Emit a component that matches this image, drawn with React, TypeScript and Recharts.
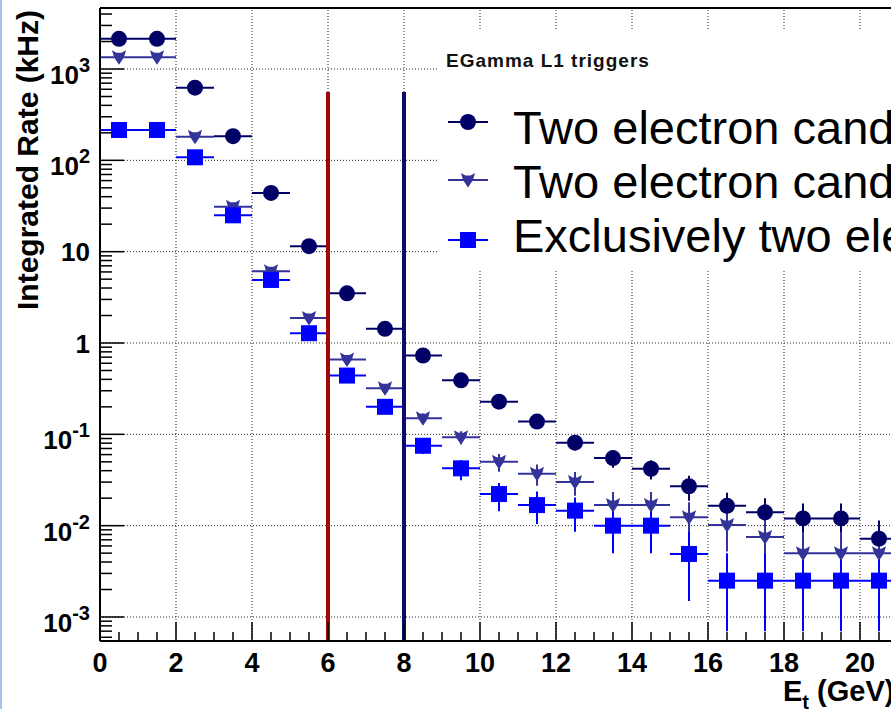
import { ErrorBar, ReferenceLine, Scatter, ScatterChart, XAxis, YAxis } from "recharts";

// bins are 1 GeV wide, points sit at the bin centres
const BIN_CENTERS = [
  0.5, 1.5, 2.5, 3.5, 4.5, 5.5, 6.5, 7.5, 8.5, 9.5, 10.5, 11.5, 12.5, 13.5, 14.5, 15.5, 16.5, 17.5, 18.5,
  19.5, 20.5,
];
const BIN_HALF_WIDTH = 0.5;

// circles
const TWO_ELE = [
  2140, 2140, 624, 184, 44, 11.5, 3.5, 1.43, 0.73, 0.39, 0.228, 0.138, 0.081, 0.055, 0.042, 0.027, 0.0165,
  0.014, 0.012, 0.012, 0.0072,
];
const TWO_ELE_ERR = [
  2.3, 2.3, 1.25, 0.68, 0.33, 0.17, 0.094, 0.06, 0.043, 0.031, 0.024, 0.019, 0.014, 0.012, 0.01, 0.0082,
  0.0064, 0.0059, 0.0055, 0.0055, 0.0042,
];

// down triangles
const TWO_ELE_ISO = [
  1345, 1345, 181, 31, 6.1, 1.88, 0.66, 0.32, 0.15, 0.093, 0.05, 0.037, 0.03, 0.0168, 0.0168, 0.0124,
  0.0102, 0.0075, 0.005, 0.005, 0.005,
];
const TWO_ELE_ISO_ERR = [
  1.8, 1.8, 0.67, 0.28, 0.12, 0.069, 0.041, 0.028, 0.019, 0.015, 0.011, 0.0096, 0.0087, 0.0065, 0.0065,
  0.0056, 0.005, 0.0043, 0.0035, 0.0035, 0.0035,
];

// squares
const EXCL_TWO_ELE = [
  215, 215, 108, 25, 4.9, 1.28, 0.44, 0.2, 0.075, 0.0424, 0.0222, 0.0168, 0.0146, 0.01, 0.01, 0.0049,
  0.0025, 0.0025, 0.0025, 0.0025, 0.0025,
];
const EXCL_TWO_ELE_ERR_LO = [
  0.73, 0.73, 0.52, 0.25, 0.11, 0.057, 0.033, 0.022, 0.014, 0.011, 0.0078, 0.0064, 0.006, 0.005, 0.005,
  0.0034, 0.0018, 0.0018, 0.0018, 0.0018, 0.0018,
];
const EXCL_TWO_ELE_ERR_HI = [
  0.73, 0.73, 0.52, 0.25, 0.11, 0.057, 0.033, 0.022, 0.014, 0.01, 0.0072, 0.0068, 0.0058, 0.005, 0.005,
  0.0036, 0.0025, 0.0025, 0.0025, 0.0025, 0.0025,
];

const SERIES_NAMES = [
  "Two electron candidates",
  "Two electron candidates, isolated",
  "Exclusively two electron candidates",
];
const LEGEND_TITLE = "EGamma L1 triggers";

// trigger thresholds drawn as vertical lines (GeV) and where they stop (kHz)
const THRESHOLDS = [6, 8];
const THRESHOLD_TOP = 560;

const X_DOMAIN: [number, number] = [0, 22];
const X_MAJOR_TICKS = [0, 2, 4, 6, 8, 10, 12, 14, 16, 18, 20, 22];
const X_MINOR_STEP = 0.5;
const Y_DOMAIN: [number, number] = [5.46e-4, 4656];
const Y_MAJOR_TICKS = [1e-3, 1e-2, 1e-1, 1, 10, 1e2, 1e3];
const Y_MAJOR_LABELS: [string, string][] = [
  ["10", "-3"],
  ["10", "-2"],
  ["10", "-1"],
  ["1", ""],
  ["10", ""],
  ["10", "2"],
  ["10", "3"],
];

const FONT = '"Liberation Sans", Arial, Helvetica, sans-serif';
const CIRCLE_COLOR = "#000066";
const TRIANGLE_COLOR = "#333399";
const SQUARE_COLOR = "#0000ff";
const THRESHOLD_COLORS = ["#a00808", "#0c0c68"];

const xTicks: number[] = [];
for (let v = X_DOMAIN[0]; v <= X_DOMAIN[1] + 1e-9; v += X_MINOR_STEP) xTicks.push(v);

const yTicks: number[] = [];
for (let e = -4; e <= 3; e++) {
  for (let m = 1; m <= 9; m++) {
    const v = Number((m * Math.pow(10, e)).toPrecision(4));
    if (v >= Y_DOMAIN[0] && v <= Y_DOMAIN[1]) yTicks.push(v);
  }
}

const buildRows = (values: number[], lo: number[], hi: number[]) =>
  BIN_CENTERS.map((x, i) => ({ x, y: values[i], ex: BIN_HALF_WIDTH, ey: [lo[i], hi[i]] }));

const circleRows = buildRows(TWO_ELE, TWO_ELE_ERR, TWO_ELE_ERR);
const triangleRows = buildRows(TWO_ELE_ISO, TWO_ELE_ISO_ERR, TWO_ELE_ISO_ERR);
const squareRows = buildRows(EXCL_TWO_ELE, EXCL_TWO_ELE_ERR_LO, EXCL_TWO_ELE_ERR_HI);

function CircleMarker({ cx, cy }: { cx: number; cy: number }) {
  return <circle cx={cx} cy={cy} r={8} fill={CIRCLE_COLOR} />;
}

function TriangleMarker({ cx, cy }: { cx: number; cy: number }) {
  const pts = [
    [-7, -7],
    [-2.5, -4.5],
    [2.5, -4.5],
    [7, -7],
    [5, 0],
    [0, 7.5],
    [-5, 0],
  ]
    .map(([dx, dy]) => `${cx + dx},${cy + dy}`)
    .join(" ");
  return <polygon points={pts} fill={TRIANGLE_COLOR} />;
}

function SquareMarker({ cx, cy }: { cx: number; cy: number }) {
  return <rect x={cx - 8} y={cy - 8} width={16} height={16} fill={SQUARE_COLOR} />;
}

const MARKERS = [CircleMarker, TriangleMarker, SquareMarker];
const MARKER_COLORS = [CIRCLE_COLOR, TRIANGLE_COLOR, SQUARE_COLOR];

function YTick(props: any) {
  const { x, y, payload } = props;
  const idx = Y_MAJOR_TICKS.findIndex((t) => Math.abs(t - payload.value) / t < 1e-6);
  const major = idx >= 0;
  const [base, sup] = major ? Y_MAJOR_LABELS[idx] : ["", ""];
  return (
    <g>
      <line x1={x} x2={x + (major ? 24 : 12)} y1={y} y2={y} stroke="#000" strokeWidth={1.5} />
      {major && (
        <text
          x={x - 10}
          y={y + (sup ? 15 : 9.5)}
          textAnchor="end"
          fontFamily={FONT}
          fontWeight="bold"
          fontSize={26}
          fill="#000"
        >
          {base}
          {sup && (
            <tspan fontSize={20} dy={-12}>
              {sup}
            </tspan>
          )}
        </text>
      )}
    </g>
  );
}

function XTick(props: any) {
  const { x, y, payload } = props;
  const major = X_MAJOR_TICKS.some((t) => Math.abs(t - payload.value) < 1e-6);
  return (
    <g>
      <line x1={x} x2={x} y1={y} y2={y - (major ? 19 : 9)} stroke="#000" strokeWidth={1.5} />
      {major && (
        <text x={x} y={y + 31} textAnchor="middle" fontFamily={FONT} fontWeight="bold" fontSize={27} fill="#000">
          {payload.value}
        </text>
      )}
    </g>
  );
}

// ROOT-style legend: white box over the grid, marker with bin bar, big label
const LEGEND_ROW_MARKER_Y = [92, 150, 210];
const LEGEND_ROW_TEXT_Y = [114, 168, 222];

function LegendBox() {
  return (
    <svg
      width={470}
      height={240}
      style={{ position: "absolute", left: 438, top: 30, background: "#fff" }}
    >
      <text x={8} y={37} fontFamily={FONT} fontWeight="bold" fontSize={19} letterSpacing={1} fill="#111">
        {LEGEND_TITLE}
      </text>
      {SERIES_NAMES.map((name, i) => {
        const Marker = MARKERS[i];
        const my = LEGEND_ROW_MARKER_Y[i];
        return (
          <g key={name}>
            <line x1={10} x2={50} y1={my} y2={my} stroke={MARKER_COLORS[i]} strokeWidth={2} />
            <Marker cx={30} cy={my} />
            <text x={75} y={LEGEND_ROW_TEXT_Y[i]} fontFamily={FONT} fontSize={47} fill="#000">
              {name}
            </text>
          </g>
        );
      })}
    </svg>
  );
}

export default function App() {
  const seriesRows = [circleRows, triangleRows, squareRows];
  return (
    <div
      style={{
        position: "absolute",
        left: 0,
        top: 0,
        width: 891,
        height: 709,
        overflow: "hidden",
        background: "#fff",
      }}
    >
      <ScatterChart width={940} height={709} margin={{ top: 8, right: 4, bottom: 0, left: 0 }}>
        <XAxis
          type="number"
          dataKey="x"
          domain={X_DOMAIN}
          allowDataOverflow
          ticks={xTicks}
          interval={0}
          tick={XTick}
          tickLine={false}
          tickSize={0}
          tickMargin={0}
          height={68}
          axisLine={{ stroke: "#000", strokeWidth: 2 }}
          label={() => (
            <text x={783} y={701} fontFamily={FONT} fontWeight="bold" fontSize={29} fill="#000">
              E
              <tspan fontSize={20} dy={8}>
                t
              </tspan>
              <tspan dy={-8}> (GeV)</tspan>
            </text>
          )}
        />
        <YAxis
          type="number"
          dataKey="y"
          scale="log"
          domain={Y_DOMAIN}
          allowDataOverflow
          ticks={yTicks}
          interval={0}
          tick={YTick}
          tickLine={false}
          tickSize={0}
          tickMargin={0}
          width={100}
          axisLine={{ stroke: "#000", strokeWidth: 2 }}
          label={() => (
            <text
              transform="translate(38,160) rotate(-90)"
              textAnchor="middle"
              fontFamily={FONT}
              fontWeight="bold"
              fontSize={30}
              fill="#000"
            >
              Integrated Rate (kHz)
            </text>
          )}
        />

        {X_MAJOR_TICKS.filter((t) => t > 0).map((t) => (
          <ReferenceLine key={`gx${t}`} x={t} stroke="#222" strokeDasharray="1 2" ifOverflow="visible" />
        ))}
        {Y_MAJOR_TICKS.map((t) => (
          <ReferenceLine key={`gy${t}`} y={t} stroke="#222" strokeDasharray="1 2" ifOverflow="visible" />
        ))}
        <ReferenceLine y={Y_DOMAIN[1]} stroke="#000" strokeWidth={2} ifOverflow="visible" />

        {seriesRows.map((rows, i) => (
          <Scatter
            key={SERIES_NAMES[i]}
            name={SERIES_NAMES[i]}
            data={rows}
            shape={MARKERS[i] as any}
            isAnimationActive={false}
          >
            <ErrorBar
              dataKey="ex"
              direction="x"
              width={0}
              stroke={MARKER_COLORS[i]}
              strokeWidth={2}
              isAnimationActive={false}
            />
            <ErrorBar
              dataKey="ey"
              direction="y"
              width={0}
              stroke={MARKER_COLORS[i]}
              strokeWidth={2}
              isAnimationActive={false}
            />
          </Scatter>
        ))}

        {THRESHOLDS.map((t, i) => (
          <ReferenceLine
            key={`thr${t}`}
            segment={[
              { x: t, y: THRESHOLD_TOP },
              { x: t, y: Y_DOMAIN[0] },
            ]}
            stroke={THRESHOLD_COLORS[i]}
            strokeWidth={4}
            ifOverflow="visible"
          />
        ))}
      </ScatterChart>
      <LegendBox />
      <div style={{ position: "absolute", left: 0, top: 0, width: 2, height: 709, background: "#a9c3e6" }} />
    </div>
  );
}
